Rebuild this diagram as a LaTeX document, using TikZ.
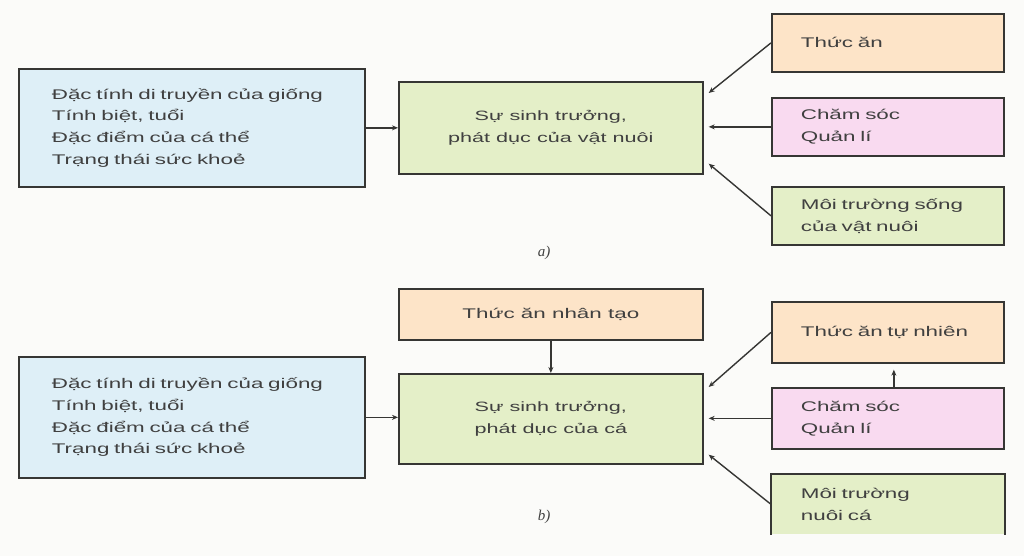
\documentclass[tikz,border=0pt]{standalone}
\usepackage{fontspec}
\setmainfont{Liberation Sans}[FakeStretch=1.6]
\newfontfamily\labfont{Liberation Serif}
\usetikzlibrary{arrows.meta,calc}
\definecolor{bgc}{HTML}{FBFBF9}
\definecolor{bordc}{HTML}{363634}
\definecolor{txtc}{HTML}{404040}
\definecolor{bluef}{HTML}{DEEFF7}
\definecolor{greenf}{HTML}{E4EFC8}
\definecolor{orangef}{HTML}{FDE4C8}
\definecolor{pinkf}{HTML}{F9DAF0}
\tikzset{
  box/.style={draw=bordc, line width=1.7pt, anchor=north west, inner ysep=0pt,
    text=txtc, font=\fontsize{14}{21.7}\selectfont},
  leftbox/.style={box, fill=bluef, minimum width=346pt, minimum height=118pt,
    text width=280pt, inner xsep=33pt, align=left},
  midbox/.style={box, fill=greenf, minimum width=304pt, align=center},
  sidebox/.style={box, minimum width=232pt, text width=174pt, inner xsep=29pt, align=left},
  conn/.style={draw=bordc, line width=1.4pt, -{Stealth[length=6pt,width=5pt]}},
  sublabel/.style={text=txtc, font=\labfont\itshape\fontsize{15}{17}\selectfont}
}
\begin{document}
\begin{tikzpicture}[x=1pt,y=-1pt]
\fill[bgc] (0,0) rectangle (1024,556);
\useasboundingbox (0,0) rectangle (1024,556);

% ---------- a) ----------
\node[leftbox] (la) at (18,68) {Đặc tính di truyền của giống\\Tính biệt, tuổi\\Đặc điểm của cá thể\\Trạng thái sức khoẻ};
\node[midbox, minimum height=92pt, font=\fontsize{13.5}{21.7}\selectfont] (ca) at (398,81) {Sự sinh trưởng,\\phát dục của vật nuôi};
\node[sidebox, fill=orangef, minimum height=58pt] (ta) at (771,13) {Thức ăn};
\node[sidebox, fill=pinkf, minimum height=58pt] (csa) at (771,97) {Chăm sóc\\Quản lí};
\node[sidebox, fill=greenf, minimum height=58pt] (mta) at (771,186) {Môi trường sống\\của vật nuôi};
\node[sublabel] (laba) at (544,253) {a)};

\draw[conn] (la.east) -- (la.east -| ca.west);
\draw[conn] (ta.west) -- ([xshift=5pt,yshift=-12pt]ca.north east);
\draw[conn] (csa.west) -- ([xshift=5pt]csa.west -| ca.east);
\draw[conn] (mta.west) -- ([xshift=5pt,yshift=11pt]ca.south east);

% ---------- b) ----------
\node[leftbox, minimum height=121pt] (lb) at (18,356) {Đặc tính di truyền của giống\\Tính biệt, tuổi\\Đặc điểm của cá thể\\Trạng thái sức khoẻ};
\node[midbox, fill=orangef, minimum height=51pt] (tnt) at (398,288) {Thức ăn nhân tạo};
\node[midbox, minimum height=90pt, font=\fontsize{13.5}{21.7}\selectfont] (cb) at (398,373) {Sự sinh trưởng,\\phát dục của cá};
\node[sidebox, fill=orangef, minimum height=61pt] (ttn) at (771,301) {Thức ăn tự nhiên};
\node[sidebox, fill=pinkf, minimum height=61pt] (csb) at (771,387) {Chăm sóc\\Quản lí};
\node[sidebox, draw=none, fill=greenf, minimum height=59pt] (mtb) at (771,474) {Môi trường\\nuôi cá};
\draw[bordc, line width=1.7pt] (mtb.south west) -- (mtb.north west) -- (mtb.north east) -- (mtb.south east);
\node[sublabel] (labb) at (544,517) {b)};

\draw[conn] (lb.east) -- (lb.east -| cb.west);
\draw[conn] (tnt.south) -- (cb.north);
\draw[conn] (ttn.west) -- ([xshift=5pt,yshift=-14pt]cb.north east);
\draw[conn] (csb.west) -- ([xshift=5pt]csb.west -| cb.east);
\draw[conn] (mtb.west) -- ([xshift=5pt,yshift=10pt]cb.south east);
\draw[conn] ([xshift=6pt]csb.north) -- ([xshift=6pt,yshift=-6pt]ttn.south);
\end{tikzpicture}
\end{document}
